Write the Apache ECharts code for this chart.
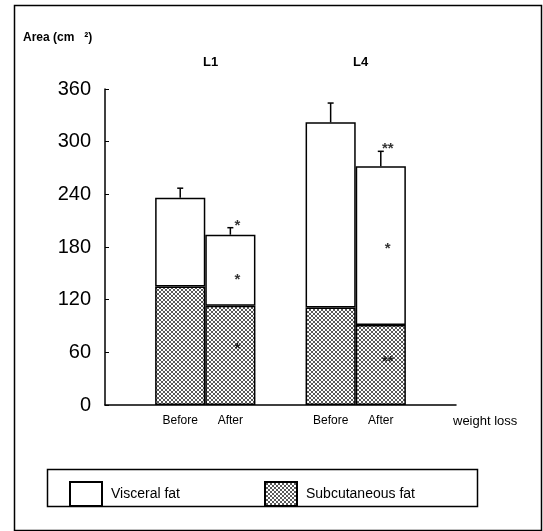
<!DOCTYPE html>
<html>
<head>
<meta charset="utf-8">
<script src="https://cdn.jsdelivr.net/npm/echarts@6/dist/echarts.min.js"></script>
<style>html,body{margin:0;padding:0;background:#fff}#c{width:543px;height:531px}</style>
</head>
<body>
<div id="c"></div>
<script>
// ---- data ----
const categories = ['', 'Before', 'After', ' ', 'Before ', 'After ', '  '];
const subcutaneous = [null, 135, 113, null, 111, 91, null];
const visceral = [null, 101, 81, null, 211, 181, null];
const errors = [null, 11, 8, null, 22, 17, null];
const yTicks = [0, 60, 120, 180, 240, 300, 360];
const groupLabels = ['L1', 'L4'];
const starCats = [2, 2, 2, 5, 5, 5];
const starVals = [209, 147, 68, 296, 183, 54];
const starText = ['*', '*', '*', '**', '*', '**'];

// ---- pattern ----
const pc = document.createElement('canvas');
pc.width = 4; pc.height = 4;
const pctx = pc.getContext('2d');
pctx.fillStyle = '#fff'; pctx.fillRect(0, 0, 4, 4);
pctx.fillStyle = '#222';
[[0, 0], [4, 0], [0, 4], [4, 4], [2, 2]].forEach(([x, y]) => {
  pctx.beginPath(); pctx.arc(x, y, 1.0, 0, Math.PI * 2); pctx.fill();
});
const pattern = { image: pc, repeat: 'repeat' };

const errData = [];
categories.forEach((c, i) => {
  if (errors[i] != null) {
    const total = subcutaneous[i] + visceral[i];
    errData.push([i, total, total + errors[i]]);
  }
});
const starData = starCats.map((c, i) => [c, starVals[i], starText[i]]);

const chart = echarts.init(document.getElementById('c'));
const font = 'Liberation Sans, Arial, sans-serif';
chart.setOption({
  animation: false,
  textStyle: { fontFamily: font },
  grid: { left: 105, right: 87, top: 89, bottom: 126 },
  xAxis: {
    type: 'category',
    data: categories,
    boundaryGap: true,
    axisLine: { lineStyle: { color: '#000', width: 1.5 } },
    axisTick: { alignWithLabel: true, length: 3, lineStyle: { color: '#000' } },
    axisLabel: { color: '#000', fontSize: 12, margin: 10, fontFamily: font,
      formatter: v => v.trim() }
  },
  yAxis: {
    type: 'value',
    min: yTicks[0], max: yTicks[yTicks.length - 1], interval: 60,
    splitLine: { show: false },
    axisLine: { show: true, lineStyle: { color: '#000', width: 1.5 } },
    axisTick: { show: true, inside: true, length: 4, lineStyle: { color: '#000' } },
    axisLabel: { color: '#000', fontSize: 20, margin: 14, fontFamily: font }
  },
  legend: [
    { left: 64, top: 476, itemWidth: 32, itemHeight: 24, icon: 'rect', data: ['Visceral fat'],
      textStyle: { fontSize: 14, color: '#000', padding: [0, 0, 0, 4] } },
    { left: 259, top: 476, itemWidth: 32, itemHeight: 24, icon: 'rect', data: ['Subcutaneous fat'],
      textStyle: { fontSize: 14, color: '#000', padding: [0, 0, 0, 4] } }
  ],
  graphic: [
    { type: 'rect', left: 12, top: 3, shape: { width: 527, height: 525 }, silent: true,
      style: { fill: 'none', stroke: '#000', lineWidth: 1.5 } },
    { type: 'rect', left: 45, top: 467, shape: { width: 430, height: 37 }, silent: true,
      style: { fill: 'none', stroke: '#000', lineWidth: 1.5 } },
    { type: 'text', left: 23, top: 32, style: { text: 'Area (cm   ²)', font: 'bold 12px ' + font, fill: '#000' } },
    { type: 'text', left: 203, top: 56, style: { text: groupLabels[0], font: 'bold 13px ' + font, fill: '#000' } },
    { type: 'text', left: 353, top: 56, style: { text: groupLabels[1], font: 'bold 13px ' + font, fill: '#000' } },
    { type: 'text', left: 453, top: 415, style: { text: 'weight loss', font: '13px ' + font, fill: '#000' } }
  ],
  series: [
    { name: 'Subcutaneous fat', type: 'bar', stack: 'fat', barWidth: '100%', data: subcutaneous,
      itemStyle: { color: pattern, borderColor: '#000', borderWidth: 1.5 } },
    { name: 'Visceral fat', type: 'bar', stack: 'fat', barWidth: '100%', data: visceral,
      itemStyle: { color: '#fff', borderColor: '#000', borderWidth: 1.5 } },
    { name: 'err', type: 'custom', data: errData, z: 5,
      renderItem: (params, api) => {
        const p0 = api.coord([api.value(0), api.value(1)]);
        const p1 = api.coord([api.value(0), api.value(2)]);
        const st = { stroke: '#000', lineWidth: 1.5 };
        return { type: 'group', children: [
          { type: 'line', shape: { x1: p0[0], y1: p0[1], x2: p1[0], y2: p1[1] }, style: st },
          { type: 'line', shape: { x1: p1[0] - 3, y1: p1[1], x2: p1[0] + 3, y2: p1[1] }, style: st }
        ] };
      } },
    { name: 'stars', type: 'scatter', data: starData, symbolSize: 0, z: 6,
      label: { show: true, position: 'inside', offset: [7, 4], formatter: p => p.value[2],
        color: '#000', fontSize: 15, fontWeight: 'bold', fontFamily: font } }
  ]
});
</script>
</body>
</html>
